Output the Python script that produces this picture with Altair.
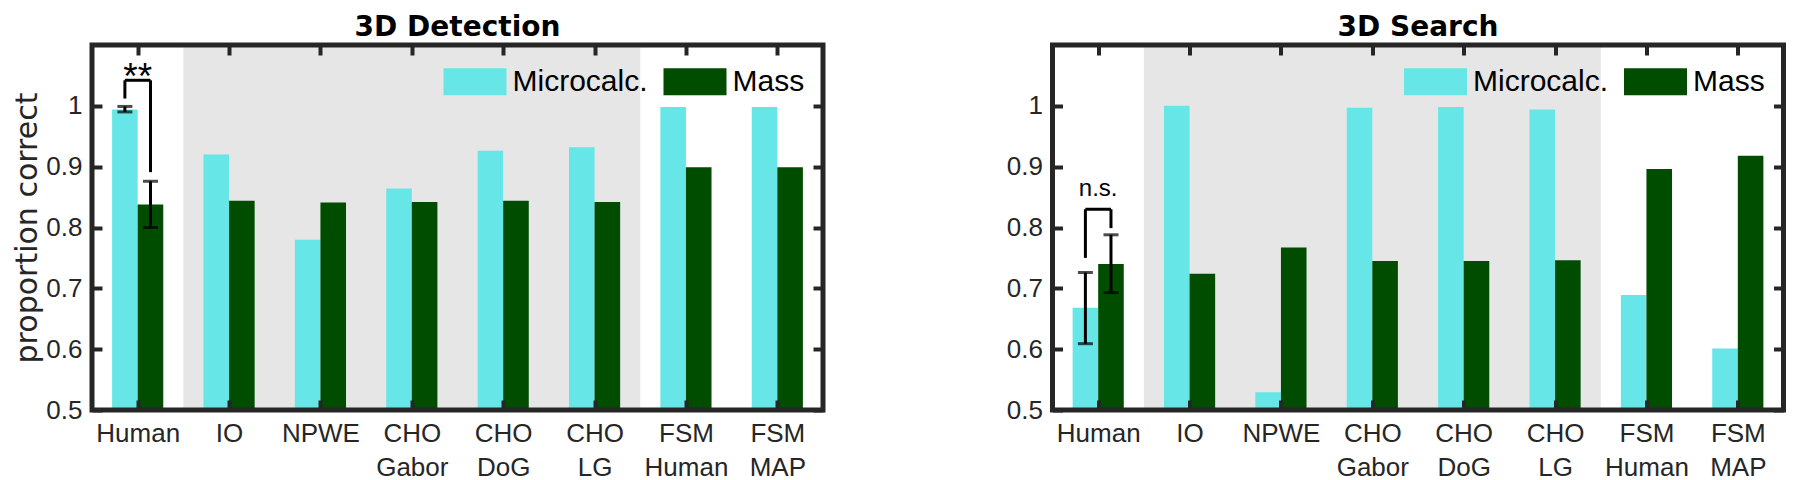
import json
import altair as alt
import pandas as pd

# ---------------- data ----------------
categories = ["Human", "IO", "NPWE", "CHO Gabor", "CHO DoG", "CHO LG", "FSM Human", "FSM MAP"]
series = ["Microcalc.", "Mass"]

det_micro = [0.994, 0.920, 0.780, 0.864, 0.926, 0.932, 0.998, 0.998]
det_mass = [0.838, 0.844, 0.841, 0.842, 0.844, 0.842, 0.899, 0.899]
det_err_micro = [0.990, 0.999]
det_err_mass = [0.800, 0.876]
det_bracket = [1.012, 0.891, 1.042]   # left leg bottom, right leg bottom, top
det_sig = "**"
det_sig_y = 1.028

srch_micro = [0.668, 1.000, 0.529, 0.997, 0.998, 0.994, 0.689, 0.601]
srch_mass = [0.740, 0.724, 0.767, 0.745, 0.745, 0.746, 0.896, 0.918]
srch_err_micro = [0.609, 0.726]
srch_err_mass = [0.693, 0.788]
srch_bracket = [0.750, 0.799, 0.830]
srch_sig = "n.s."
srch_sig_y = 0.852

y_ticks = [0.5, 0.6, 0.7, 0.8, 0.9, 1.0]
y_limits = [0.5, 1.1]
shade_cats = ["IO", "CHO LG"]

# ---------------- style ----------------
FONT = "Liberation Sans"
TITLE_FONT = "DejaVu Sans"
AX = "#262626"
CYAN = "#66E6E6"
DARK = "#004D00"
SHADE = "#E6E6E6"
BAR_W = 0.28
W, H = 731, 365
N = len(categories)
LABEL_EXPR = "split(" + json.dumps(categories) + "[datum.value - 1], ' ')"
SWATCH = "M-1,-0.43H1V0.43H-1Z"


def panel(title, micro, mass, err_micro, err_mass, bracket, sig, sig_y, ytitle):
    xs = alt.Scale(domain=[0.5, N + 0.5], nice=False, zero=False)
    ys = alt.Scale(domain=y_limits, nice=False, zero=False)

    rows = []
    for i, c in enumerate(categories):
        rows.append(dict(cat=c, series=series[0], value=micro[i], i=i + 1, k=0))
        rows.append(dict(cat=c, series=series[1], value=mass[i], i=i + 1, k=1))
    bars_df = pd.DataFrame(rows)

    ci = {c: i + 1 for i, c in enumerate(categories)}
    shade_df = pd.DataFrame([dict(x0=ci[shade_cats[0]] - 0.5, x1=ci[shade_cats[1]] + 0.5,
                                  y0=y_limits[0], y1=y_limits[1])])
    frame_df = pd.DataFrame([dict(x0=0.5, x1=N + 0.5, y0=y_limits[0], y1=y_limits[1])])

    hx = ci["Human"]
    err_df = pd.DataFrame([
        dict(x=hx - BAR_W / 2, lo=err_micro[0], hi=err_micro[1]),
        dict(x=hx + BAR_W / 2, lo=err_mass[0], hi=err_mass[1]),
    ])
    legs_df = pd.DataFrame([
        dict(x=hx - BAR_W / 2, y=bracket[0], y2=bracket[2]),
        dict(x=hx + BAR_W / 2, y=bracket[1], y2=bracket[2]),
    ])
    top_df = pd.DataFrame([dict(x=hx - BAR_W / 2, x2=hx + BAR_W / 2, y=bracket[2])])
    txt_df = pd.DataFrame([dict(x=hx, y=sig_y, t=sig)])

    tick_common = dict(tickSize=10, offset=-10, domain=False, grid=False, tickWidth=4,
                       tickColor=AX, zindex=1)

    shade = alt.Chart(shade_df).mark_rect(color=SHADE).encode(
        x=alt.X("x0:Q", scale=xs, axis=alt.Axis(orient="top", values=list(range(1, N + 1)),
                                                 labels=False, title=None, **tick_common)),
        x2="x1:Q",
        y=alt.Y("y0:Q", scale=ys, axis=alt.Axis(orient="right", values=y_ticks, labels=False,
                                                 title=None, **tick_common)),
        y2="y1:Q",
    )

    yaxis_kw = dict(orient="left", values=y_ticks, format="~g", labelFontSize=26, labelFont=FONT,
                    labelColor=AX, labelPadding=10, **tick_common)
    if ytitle:
        yaxis = alt.Axis(title=ytitle, titleFontSize=30, titleFont=TITLE_FONT, titleFontWeight="normal",
                         titleColor=AX, titlePadding=3, **yaxis_kw)
    else:
        yaxis = alt.Axis(title=None, **yaxis_kw)

    bars = alt.Chart(bars_df).transform_calculate(
        x0=f"datum.i - {BAR_W} + datum.k * {BAR_W}",
        x1=f"datum.i + datum.k * {BAR_W}",
        base=f"{y_limits[0]}",
    ).mark_bar(strokeWidth=0).encode(
        x=alt.X("x0:Q", scale=xs, axis=alt.Axis(orient="bottom", values=list(range(1, N + 1)),
                                                 labelExpr=LABEL_EXPR, labelFontSize=26, labelFont=FONT,
                                                 labelColor=AX, labelPadding=10, labelLineHeight=34,
                                                 labelOverlap=False, labelFlush=False, labelBound=False,
                                                 title=None, **tick_common)),
        x2="x1:Q",
        y=alt.Y("value:Q", scale=ys, axis=yaxis),
        y2="base:Q",
        color=alt.Color("series:N", scale=alt.Scale(domain=series, range=[CYAN, DARK]),
                        legend=alt.Legend(orient="none", legendX=351.5, legendY=5, direction="horizontal",
                                          title=None, symbolType=SWATCH, symbolSize=3969,
                                          symbolStrokeWidth=0, symbolOpacity=1, labelFontSize=30,
                                          labelFont=FONT, labelColor="black", columnPadding=15,
                                          labelOffset=6, padding=0)),
    )

    err = alt.Chart(err_df).mark_rule(color="black", strokeWidth=3).encode(
        x=alt.X("x:Q", scale=xs, axis=None),
        y=alt.Y("lo:Q", scale=ys, axis=None),
        y2="hi:Q",
    )
    caps = alt.Chart(err_df).transform_fold(["lo", "hi"], as_=["end", "v"]).mark_tick(
        color="black", orient="horizontal", size=15, thickness=3).encode(
        x=alt.X("x:Q", scale=xs, axis=None),
        y=alt.Y("v:Q", scale=ys, axis=None),
    )
    legs = alt.Chart(legs_df).mark_rule(color="black", strokeWidth=3).encode(
        x=alt.X("x:Q", scale=xs, axis=None),
        y=alt.Y("y:Q", scale=ys, axis=None),
        y2="y2:Q",
    )
    top = alt.Chart(top_df).mark_rule(color="black", strokeWidth=3).encode(
        x=alt.X("x:Q", scale=xs, axis=None),
        x2="x2:Q",
        y=alt.Y("y:Q", scale=ys, axis=None),
    )
    fs = 37 if sig == "**" else 24
    txt = alt.Chart(txt_df).mark_text(font=FONT, fontSize=fs, color="black", baseline="alphabetic",
                                      align="center").encode(
        x=alt.X("x:Q", scale=xs, axis=None),
        y=alt.Y("y:Q", scale=ys, axis=None),
        text="t:N",
    )
    frame = alt.Chart(frame_df).mark_rect(filled=False, stroke=AX, strokeWidth=5).encode(
        x=alt.X("x0:Q", scale=xs, axis=None),
        x2="x1:Q",
        y=alt.Y("y0:Q", scale=ys, axis=None),
        y2="y1:Q",
    )

    return alt.layer(shade, bars, err, caps, legs, top, txt, frame).resolve_axis(
        x="independent", y="independent").properties(
        width=W, height=H,
        title=alt.TitleParams(title, fontSize=28, fontWeight="bold", font=TITLE_FONT, color="black",
                              anchor="middle", offset=1),
    )


left = panel("3D Detection", det_micro, det_mass, det_err_micro, det_err_mass,
             det_bracket, det_sig, det_sig_y, "proportion correct")
right = panel("3D Search", srch_micro, srch_mass, srch_err_micro, srch_err_mass,
              srch_bracket, srch_sig, srch_sig_y, None)

chart = alt.hconcat(left, right, spacing=229.5, bounds="flush").resolve_scale(
    color="independent").resolve_legend(color="independent").properties(
    padding={"left": 4, "top": 5, "right": 0, "bottom": 0},
).configure_view(stroke="transparent").configure_title(
    fontSize=28, fontWeight="bold", font=TITLE_FONT
).configure(background="white")

chart.save("out.html", embed_options={"renderer": "svg", "actions": False})
